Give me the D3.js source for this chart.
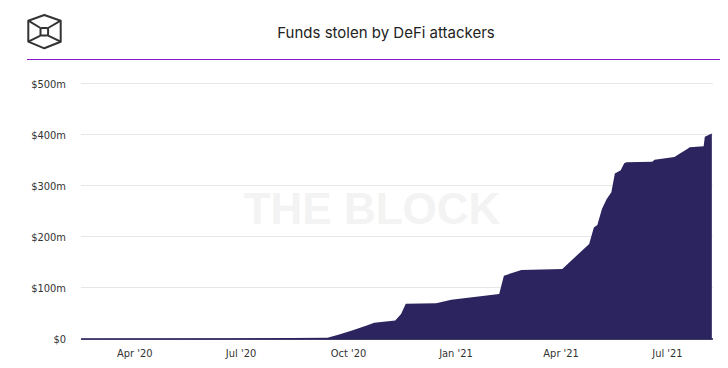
<!DOCTYPE html>
<html>
<head>
<meta charset="utf-8">
<script src="https://cdn.jsdelivr.net/npm/d3@7"></script>
<style>
  body { margin: 0; background: #fff; }
  .axis-label { font-family: "Liberation Sans Narrow", "DejaVu Sans Condensed", sans-serif; font-size: 11px; fill: #333; }
</style>
</head>
<body>
<div class="vis-area"></div>
<script>
// cumulative funds stolen (millions USD)
const dates = [
  "2020-02-15", "2020-06-21", "2020-09-13", "2020-09-23", "2020-10-04", "2020-10-16",
  "2020-10-23", "2020-11-10", "2020-11-15", "2020-11-19", "2020-12-15", "2020-12-28",
  "2021-02-07", "2021-02-11", "2021-02-26", "2021-04-02", "2021-04-25", "2021-04-29",
  "2021-05-02", "2021-05-06", "2021-05-10", "2021-05-14", "2021-05-17", "2021-05-22",
  "2021-05-25", "2021-05-27", "2021-06-18", "2021-06-20", "2021-07-07", "2021-07-11",
  "2021-07-18", "2021-07-20", "2021-08-01", "2021-08-02", "2021-08-08"
];
const stolen = [
  1.5, 2, 3.3, 10, 17.6, 27,
  33, 37, 50, 70, 71, 78,
  89, 125, 136, 138, 187, 219,
  224, 256, 275, 288, 325, 331,
  345, 347, 348, 352, 357, 363,
  373, 376, 378, 397, 403
];
const yTicks = [0, 100, 200, 300, 400, 500];
const xTicks = ["2020-04-01", "2020-07-01", "2020-10-01", "2021-01-01", "2021-04-01", "2021-07-01"];
const domainDates = ["2020-02-15", "2021-08-09"];

const W = 728, H = 368;
const margin = {top: 84, right: 15, bottom: 29, left: 81};
const width = W - margin.left - margin.right;
const height = H - margin.top - margin.bottom;

const parse = d3.timeParse("%Y-%m-%d");
const data = dates.map((d, i) => ({date: parse(d), value: stolen[i]}));

const svg = d3.select(".vis-area").append("svg")
    .attr("width", W)
    .attr("height", H);

// logo
const logo = svg.append("g")
    .attr("fill", "none")
    .attr("stroke", "#333")
    .attr("stroke-width", 2)
    .attr("stroke-linejoin", "round");
logo.append("path").attr("d", "M44.3,15 L60.7,20.7 L60.7,41.7 L44.3,48.3 L28.3,41.7 L28.3,20.7 Z");
logo.append("rect").attr("x", 40.5).attr("y", 28).attr("width", 7.6).attr("height", 7.6).attr("rx", 1.5);
logo.append("path").attr("d", "M28.3,20.7 L40.5,28 M60.7,20.7 L48.1,28 M28.3,41.7 L40.5,35.6 M60.7,41.7 L48.1,35.6");

// purple rule under header
svg.append("line")
    .attr("x1", 27).attr("x2", 720)
    .attr("y1", 59.5).attr("y2", 59.5)
    .attr("stroke", "#8d17c9")
    .attr("stroke-width", 1);

svg.append("text")
    .attr("x", 386).attr("y", 38)
    .attr("text-anchor", "middle")
    .style("font-family", "Inter, 'Noto Sans', sans-serif")
    .style("font-size", "15px")
    .style("fill", "#222")
    .text("Funds stolen by DeFi attackers");

const g = svg.append("g")
    .attr("transform", "translate(" + margin.left + "," + margin.top + ")");

const x = d3.scaleTime()
    .domain(domainDates.map(parse))
    .range([0, width]);
const y = d3.scaleLinear()
    .domain([0, 500])
    .range([height + 0.5, 0]);

// gridlines
g.append("g")
    .selectAll("line")
    .data(yTicks)
    .enter()
    .append("line")
    .attr("x1", 0).attr("x2", width)
    .attr("y1", d => Math.round(y(d)) - 0.5)
    .attr("y2", d => Math.round(y(d)) - 0.5)
    .attr("stroke", "#e6e6e6");

// watermark
g.append("text")
    .attr("x", 291).attr("y", 140)
    .attr("text-anchor", "middle")
    .style("font-family", "'Liberation Sans', Arial, sans-serif")
    .style("font-weight", "bold")
    .style("font-size", "44px")
    .style("fill", "#f3f3f3")
    .text("THE BLOCK");

const area = d3.area()
    .x(d => x(d.date))
    .y0(y(0))
    .y1(d => y(d.value));

g.append("path")
    .datum(data)
    .attr("d", area)
    .attr("fill", "#2b245e");

// baseline
g.append("line")
    .attr("x1", 0).attr("x2", width)
    .attr("y1", y(0) - 0.5).attr("y2", y(0) - 0.5)
    .attr("stroke", "#2b245e")
    .attr("stroke-width", 1.5);

// y axis labels
g.append("g")
    .selectAll("text")
    .data(yTicks)
    .enter()
    .append("text")
    .attr("class", "axis-label")
    .attr("x", -15)
    .attr("y", d => y(d))
    .attr("dy", "0.35em")
    .attr("text-anchor", "end")
    .text(d => d === 0 ? "$0" : "$" + d + "m");

// x axis labels
const fmt = d3.timeFormat("%b '%y");
g.append("g")
    .selectAll("text")
    .data(xTicks.map(parse))
    .enter()
    .append("text")
    .attr("class", "axis-label")
    .attr("x", d => x(d))
    .attr("y", height + 18)
    .attr("text-anchor", "middle")
    .text(d => fmt(d));
</script>
</body>
</html>
